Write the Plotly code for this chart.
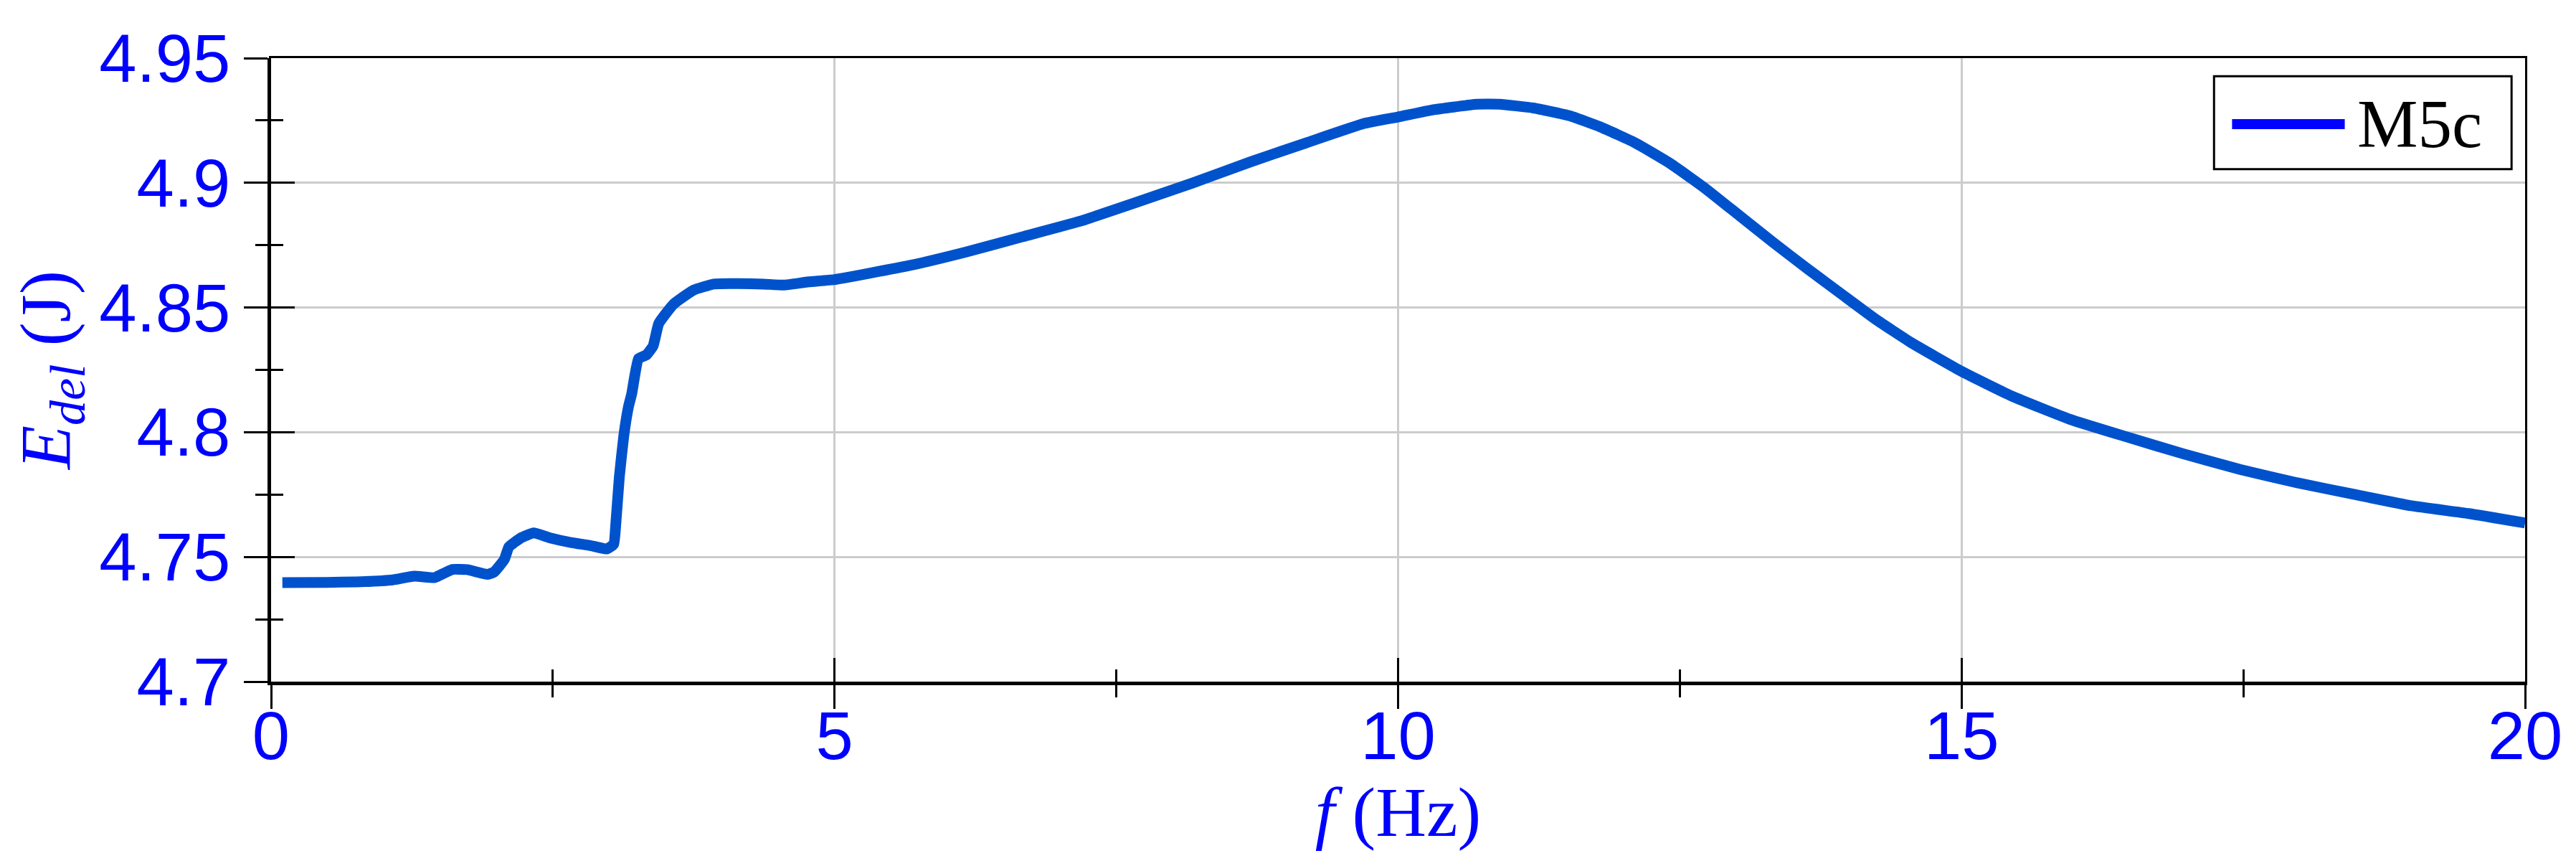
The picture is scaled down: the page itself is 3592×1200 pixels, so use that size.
import plotly.graph_objects as go

# ── Datos ─────────────────────────────────────────────────────────────────────

freq = [
    0.1, 0.5, 0.76, 1.08, 1.27, 1.45, 1.54, 1.61, 1.74, 1.92, 1.98, 2.07, 2.11,
    2.22, 2.33, 2.47, 2.66, 2.84, 2.98, 3.04, 3.06, 3.09, 3.13, 3.17, 3.20, 3.26,
    3.33, 3.39, 3.44, 3.57, 3.75, 3.93, 4.15, 4.37, 4.55, 4.77, 5.0,
    5.66, 6.16, 6.67, 7.17, 7.68, 8.18, 8.69, 9.19, 9.70, 10.0, 10.3, 10.7,
    10.9, 11.2, 11.52, 11.8, 12.1, 12.42, 12.73, 13.03, 13.33, 13.64, 13.94,
    14.24, 14.55, 15.0, 15.45, 15.96, 16.46, 16.97, 17.47, 17.98, 18.48,
    18.99, 19.5, 20.0,
]
energy = [
    4.7397, 4.7398, 4.7400, 4.7408, 4.7423, 4.7417, 4.7436, 4.7450, 4.7449,
    4.7430, 4.7440, 4.7490, 4.7540, 4.7577, 4.7596, 4.7577, 4.7558, 4.7545,
    4.7532, 4.7551, 4.7640, 4.7820, 4.7987, 4.8100, 4.8154, 4.8295, 4.8310,
    4.8346, 4.8436, 4.8513, 4.8570, 4.8594, 4.8596, 4.8594, 4.8590, 4.8603,
    4.8612,
    4.8668, 4.8722, 4.8784, 4.8845, 4.8922, 4.9000, 4.9084, 4.9161, 4.9238,
    4.9264, 4.9292, 4.9315, 4.9315, 4.9300, 4.9269, 4.9223, 4.9161, 4.9076,
    4.8976, 4.8868, 4.8760, 4.8653, 4.8552, 4.8452, 4.8360, 4.8244, 4.8144,
    4.8052, 4.7982, 4.7913, 4.7851, 4.7797, 4.7751, 4.7705, 4.7674, 4.7636,
]

x_ticks = [0, 5, 10, 15, 20]
x_tick_labels = ["0", "5", "10", "15", "20"]
y_ticks = [4.7, 4.75, 4.8, 4.85, 4.9, 4.95]
y_tick_labels = ["4.7", "4.75", "4.8", "4.85", "4.9", "4.95"]
series_name = "M5c"

# ── Estilo ────────────────────────────────────────────────────────────────────

BLUE = "#0000FF"
CURVE = "#0052CC"
GRID = "#CCCCCC"
SANS = "Liberation Sans, Arial, sans-serif"
SERIF = "Liberation Serif, Times New Roman, serif"
TICK_FONT = dict(family=SANS, size=94, color=BLUE)
X_RANGE = [0, 20]
Y_RANGE = [4.7, 4.95]

fig = go.Figure()
fig.add_trace(go.Scatter(
    x=freq, y=energy,
    mode="lines",
    name=series_name,
    line=dict(color=CURVE, width=15, shape="spline", smoothing=0.4),
    showlegend=False,
))
# traza vacía para activar los ejes superpuestos (ticks hacia dentro + marco fino)
fig.add_trace(go.Scatter(
    x=[None], y=[None], xaxis="x2", yaxis="y2",
    mode="lines", showlegend=False, hoverinfo="skip",
))

major = dict(tickcolor="black", tickwidth=2.5, ticklen=33)
minor_x = dict(dtick=2.5, tick0=0, ticklen=17, tickwidth=2.5, tickcolor="black", showgrid=False)
minor_y = dict(dtick=0.025, tick0=4.7, ticklen=17, tickwidth=2.5, tickcolor="black", showgrid=False)

fig.update_layout(
    width=3592, height=1200,
    margin=dict(l=370, r=79, t=73, b=258),
    paper_bgcolor="white", plot_bgcolor="white",
    xaxis=dict(
        range=X_RANGE, tickvals=x_ticks, ticktext=x_tick_labels,
        ticks="outside", **major, minor=dict(ticks="outside", **minor_x),
        showline=True, linecolor="black", linewidth=5,
        showgrid=True, gridcolor=GRID, gridwidth=3, zeroline=False,
        tickfont=TICK_FONT, ticklabelstandoff=-43,
        title=dict(text="<i>f</i> (Hz)", font=dict(family=SERIF, size=98, color=BLUE), standoff=0),
    ),
    xaxis2=dict(
        range=X_RANGE, overlaying="x", anchor="y2", side="bottom",
        tickvals=x_ticks, ticks="inside", **major, minor=dict(ticks="inside", **minor_x),
        showticklabels=False, showgrid=False, zeroline=False,
        showline=True, mirror=True, linecolor="black", linewidth=2.5,
    ),
    yaxis=dict(
        range=Y_RANGE, tickvals=y_ticks, ticktext=y_tick_labels,
        ticks="outside", **major, minor=dict(ticks="outside", **minor_y),
        showline=True, linecolor="black", linewidth=5,
        showgrid=True, gridcolor=GRID, gridwidth=3, zeroline=False,
        tickfont=TICK_FONT,
        title=dict(text="<i>E</i><sub><i>del</i></sub> (J)",
                   font=dict(family=SERIF, size=100, color=BLUE), standoff=10),
    ),
    yaxis2=dict(
        range=Y_RANGE, overlaying="y", anchor="x2", side="left",
        tickvals=y_ticks, ticks="inside", **major, minor=dict(ticks="inside", **minor_y),
        showticklabels=False, showgrid=False, zeroline=False,
        showline=True, mirror=True, linecolor="black", linewidth=2.5,
    ),
    showlegend=False,
)

# ── Leyenda dibujada a mano (línea gruesa azul + texto) ──────────────────────

LEG_X0, LEG_X1, LEG_Y0, LEG_Y1 = 0.862, 0.994, 0.822, 0.971
LEG_MID = 0.894
fig.add_shape(
    type="rect", xref="paper", yref="paper",
    x0=LEG_X0, x1=LEG_X1, y0=LEG_Y0, y1=LEG_Y1,
    line=dict(color="black", width=3), fillcolor="white", layer="above",
)
fig.add_shape(
    type="line", xref="paper", yref="paper",
    x0=0.870, x1=0.920, y0=LEG_MID, y1=LEG_MID,
    line=dict(color=BLUE, width=14), layer="above",
)
fig.add_annotation(
    xref="paper", yref="paper", x=0.925, y=LEG_MID,
    xanchor="left", yanchor="middle", showarrow=False,
    text=series_name, font=dict(family=SERIF, size=95, color="black"),
)

fig.write_html("out.html")
